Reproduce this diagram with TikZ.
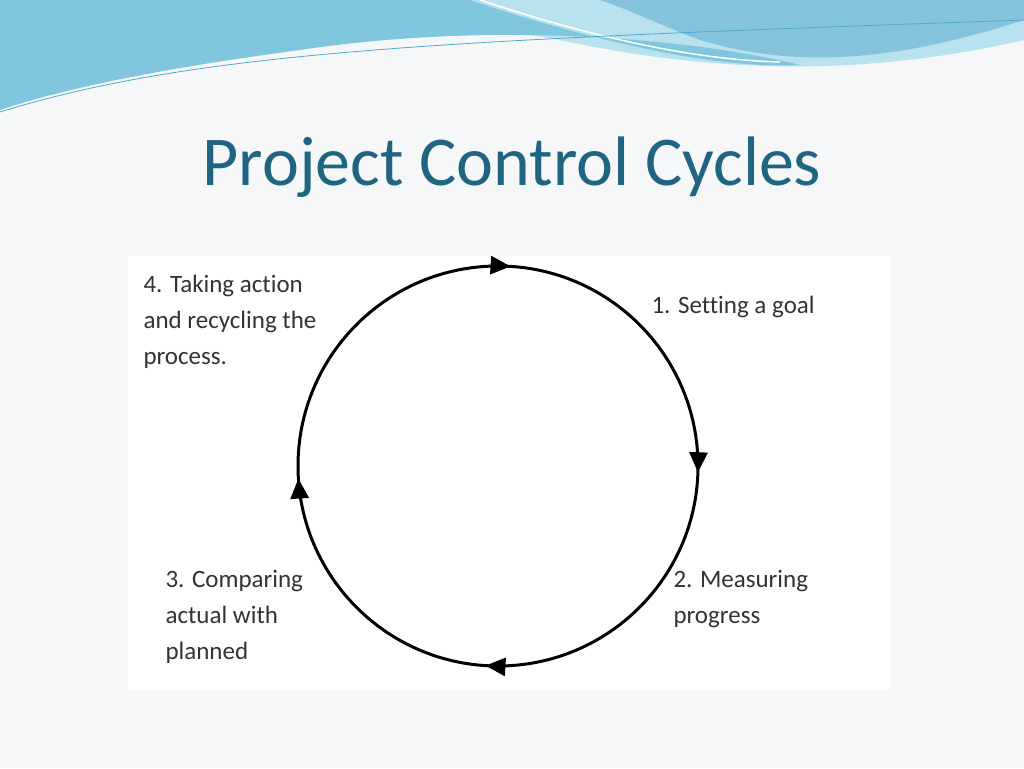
\documentclass[tikz,border=0pt]{standalone}
\usepackage{fontspec}
\setmainfont{Carlito}[Ligatures=NoCommon]
\usetikzlibrary{decorations.markings,arrows.meta}
\definecolor{bg}{HTML}{F6F7F8}
\definecolor{titlec}{HTML}{1F6480}
\definecolor{waveA}{HTML}{7FC6DE}
\definecolor{waveB}{HTML}{B8E2EE}
\definecolor{waveC}{HTML}{4FA9CC}
\tikzset{lbl/.style={anchor=north west,align=left,font=\fontsize{25}{36}\selectfont,text=black!80}}
\begin{document}
\begin{tikzpicture}[x=1pt,y=-1pt]
\useasboundingbox (0,0) rectangle (1024,768);
\fill[bg] (0,0) rectangle (1024,768);
% header waves
\fill[waveB] (0,0) -- (1024,0) -- (1024,40) .. controls (850,80) and (700,70) .. (560,40) .. controls (400,10) and (200,40) .. (0,100) -- cycle;
\fill[waveA] (0,0) -- (470,0) .. controls (560,30) and (700,70) .. (800,65) .. controls (700,40) and (500,20) .. (300,50) .. controls (150,70) and (60,90) .. (0,110) -- cycle;
\fill[waveC!70] (600,0) -- (1024,0) -- (1024,20) .. controls (900,60) and (800,70) .. (700,40) .. controls (660,25) and (630,10) .. (600,0) -- cycle;
\draw[white,line width=1.5pt] (480,0) .. controls (600,40) and (700,60) .. (780,62);
\draw[waveC,line width=0.8pt] (0,112) .. controls (200,50) and (450,40) .. (1024,20);
% title
\node[text=titlec,font=\fontsize{70}{80}\selectfont] (title) at (512,167) {Project Control Cycles};
% panel
\fill[white] (128,256) rectangle (890,690);
\coordinate (c) at (498,466);
\draw[line width=3pt,postaction={decorate},decoration={markings,
  mark=at position 0.01 with {\arrow{Triangle[length=20pt,width=18pt]}},
  mark=at position 0.255 with {\arrow{Triangle[length=20pt,width=18pt]}},
  mark=at position 0.51 with {\arrow{Triangle[length=20pt,width=18pt]}},
  mark=at position 0.74 with {\arrow{Triangle[length=20pt,width=18pt]}}}]
  (498,266) arc[start angle=-90,end angle=270,radius=200];
\node[lbl] (l1) at (648,293) {1. Setting a goal};
\node[lbl] (l2) at (670,567) {2. Measuring\\progress};
\node[lbl] (l3) at (162,567) {3. Comparing\\actual with\\planned};
\node[lbl] (l4) at (140,272) {4. Taking action\\and recycling the\\process.};
\end{tikzpicture}
\end{document}
